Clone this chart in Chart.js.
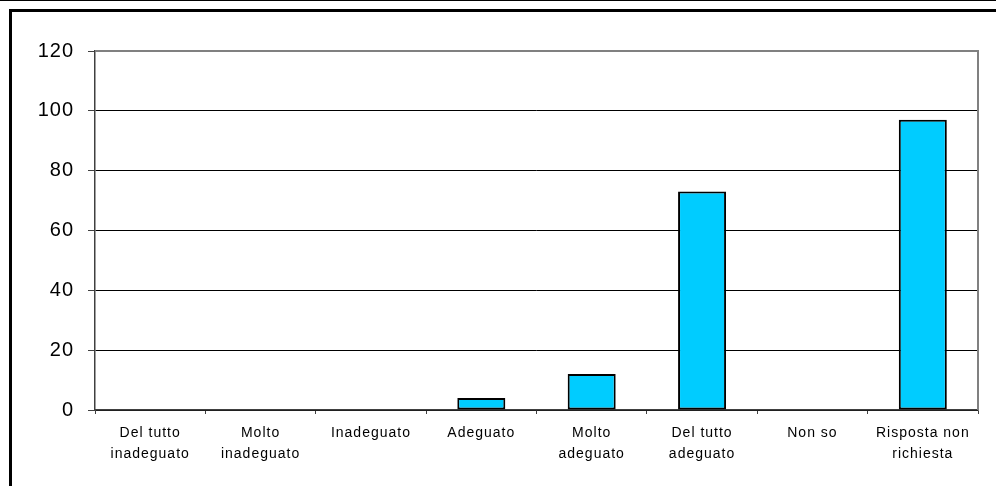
<!DOCTYPE html>
<html>
<head>
<meta charset="utf-8">
<script src="https://cdn.jsdelivr.net/npm/chart.js@4/dist/chart.umd.min.js"></script>
<style>
  html, body { margin: 0; padding: 0; background: #fff; }
  body { width: 996px; height: 486px; overflow: hidden; position: relative; border-top: 1px solid #000; box-sizing: border-box; }
  #frame { position: absolute; left: 9px; top: 8px; width: 1100px; height: 600px; border: 3px solid #000; box-sizing: border-box; }
  #wrap { position: absolute; left: 0; top: 0; width: 996px; height: 486px; }
</style>
</head>
<body>
<div id="frame"></div>
<div id="wrap"><canvas id="chart" width="996" height="486"></canvas></div>
<script>
// categorie e valori
const categories = [
    ['Del tutto', 'inadeguato'],
    ['Molto', 'inadeguato'],
    'Inadeguato',
    'Adeguato',
    ['Molto', 'adeguato'],
    ['Del tutto', 'adeguato'],
    'Non so',
    ['Risposta non', 'richiesta']
];
const values = [0, 0, 0, 4, 12, 73, 0, 97];
const yTicks = [0, 20, 40, 60, 80, 100, 120];

// testo un po' spaziato come nell'originale
const spacing = {
    id: 'spacing',
    beforeUpdate(chart) { chart.ctx.letterSpacing = '1px'; },
    beforeDraw(chart) { chart.ctx.letterSpacing = '1px'; }
};

// bordo grigio del riquadro del grafico (alto e destra)
const plotFrame = {
    id: 'plotFrame',
    beforeDatasetsDraw(chart) {
        const { ctx, chartArea } = chart;
        ctx.save();
        ctx.strokeStyle = '#808080';
        ctx.lineWidth = 2;
        ctx.beginPath();
        ctx.moveTo(chartArea.left, chartArea.top);
        ctx.lineTo(chartArea.right, chartArea.top);
        ctx.lineTo(chartArea.right, chartArea.bottom);
        ctx.stroke();
        ctx.restore();
    }
};

const ctx = document.getElementById('chart').getContext('2d');
const chart = new Chart(ctx, {
    type: 'bar',
    data: {
        labels: categories,
        datasets: [{
            data: values,
            backgroundColor: '#00CCFF',
            borderColor: '#000000',
            borderWidth: 2,
            borderSkipped: false,
            categoryPercentage: 1,
            barPercentage: 0.435
        }]
    },
    options: {
        responsive: false,
        animation: false,
        layout: { padding: { left: 0, top: 50, right: 18, bottom: 0 } },
        plugins: { legend: { display: false }, tooltip: { enabled: false } },
        scales: {
            x: {
                offset: true,
                afterFit: function(scale) { scale.height = 77; },
                grid: { drawOnChartArea: false, drawTicks: true, tickLength: 4, tickColor: '#404040', offset: true },
                border: { color: '#404040', width: 1.5 },
                ticks: {
                    color: '#000',
                    padding: 9,
                    maxRotation: 0,
                    autoSkip: false,
                    font: { family: '"Liberation Sans", Arial, sans-serif', size: 14, lineHeight: 1.5 }
                }
            },
            y: {
                min: 0,
                max: 120,
                afterFit: function(scale) { scale.width = 95; },
                afterBuildTicks: function(scale) { scale.ticks = yTicks.map(v => ({ value: v })); },
                grid: {
                    color: function(c) { return c.tick && c.tick.value === 120 ? 'rgba(0,0,0,0)' : '#000'; },
                    lineWidth: 1,
                    drawTicks: true,
                    tickLength: 7,
                    tickColor: '#404040'
                },
                border: { color: '#404040', width: 1.5 },
                ticks: {
                    color: '#000',
                    padding: 14,
                    font: { family: '"Liberation Sans", Arial, sans-serif', size: 20 }
                }
            }
        }
    },
    plugins: [spacing, plotFrame]
});
</script>
</body>
</html>
